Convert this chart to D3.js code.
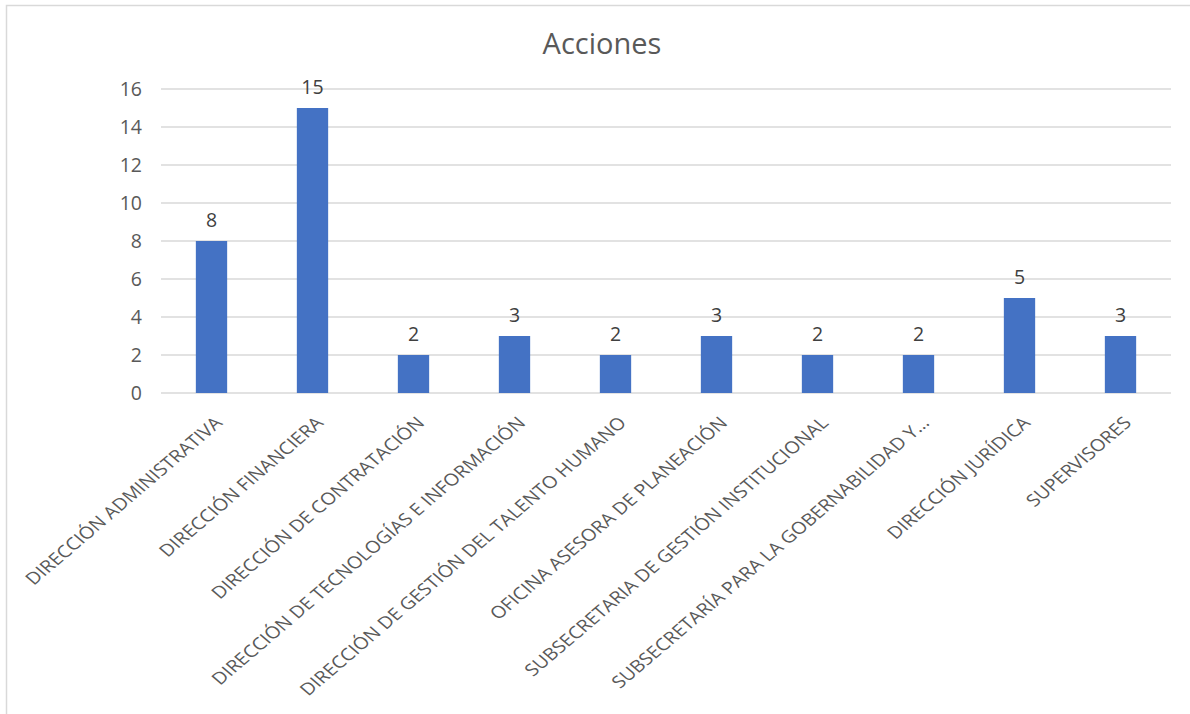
<!DOCTYPE html>
<html>
<head>
<meta charset="utf-8">
<script src="https://cdn.jsdelivr.net/npm/d3@7"></script>
<style>
  body { margin: 0; background: #fff; }
  text { font-family: 'Open Sans', 'Segoe UI', sans-serif; }
</style>
</head>
<body>
<div id="chart"></div>
<script>
var chart_width = 1190
var chart_height = 714

var categories = [
  'DIRECCIÓN ADMINISTRATIVA',
  'DIRECCIÓN FINANCIERA',
  'DIRECCIÓN DE CONTRATACIÓN',
  'DIRECCIÓN DE TECNOLOGÍAS E INFORMACIÓN',
  'DIRECCIÓN DE GESTIÓN DEL TALENTO HUMANO',
  'OFICINA ASESORA DE PLANEACIÓN',
  'SUBSECRETARIA DE GESTIÓN INSTITUCIONAL',
  'SUBSECRETARÍA PARA LA GOBERNABILIDAD Y…',
  'DIRECCIÓN JURÍDICA',
  'SUPERVISORES'
]
var values = [8, 15, 2, 3, 2, 3, 2, 2, 5, 3]
var y_ticks = [0, 2, 4, 6, 8, 10, 12, 14, 16]

var plot = { left: 161, right: 1171, top: 89, bottom: 393 }

var svg = d3.select('#chart')
  .append('svg')
  .attr('width', chart_width)
  .attr('height', chart_height)

// chart frame
svg.append('rect')
  .attr('x', 6.5)
  .attr('y', 5.5)
  .attr('width', chart_width)
  .attr('height', chart_height)
  .attr('fill', '#fff')
  .attr('stroke', '#d9d9d9')
  .attr('stroke-width', 1.5)

var x_scale = d3.scaleBand()
  .domain(categories)
  .range([plot.left, plot.right])
  .paddingInner(0.69)
  .paddingOuter(0.345)

var y_scale = d3.scaleLinear()
  .domain([0, 16])
  .range([plot.bottom, plot.top])

// gridlines
svg.append('g')
  .selectAll('line')
  .data(y_ticks)
  .enter()
  .append('line')
  .attr('x1', plot.left)
  .attr('x2', plot.right)
  .attr('y1', d => y_scale(d))
  .attr('y2', d => y_scale(d))
  .attr('stroke', '#d9d9d9')
  .attr('stroke-width', 1.4)

// y axis labels
var y_axis = d3.axisLeft(y_scale)
  .tickValues(y_ticks)
  .tickSize(0)
  .tickPadding(19)
svg.append('g')
  .attr('transform', 'translate(' + plot.left + ', 0)')
  .call(y_axis)
  .call(g => g.select('.domain').remove())
  .selectAll('text')
  .attr('font-family', "'Open Sans', 'Segoe UI', sans-serif")
  .attr('font-size', 19.5)
  .attr('fill', '#595959')

// bars
svg.append('g')
  .selectAll('rect')
  .data(values)
  .enter()
  .append('rect')
  .attr('x', (d, i) => x_scale(categories[i]))
  .attr('y', d => y_scale(d))
  .attr('width', x_scale.bandwidth())
  .attr('height', d => y_scale(0) - y_scale(d))
  .attr('fill', '#4472c4')

// value labels
svg.append('g')
  .selectAll('text')
  .data(values)
  .enter()
  .append('text')
  .attr('x', (d, i) => x_scale(categories[i]) + x_scale.bandwidth() / 2)
  .attr('y', d => y_scale(d) - 14)
  .attr('text-anchor', 'middle')
  .attr('font-size', 19.5)
  .attr('fill', '#404040')
  .text(d => d)

// category labels (the source picture is a bit stretched sideways)
svg.append('g')
  .selectAll('text')
  .data(categories)
  .enter()
  .append('text')
  .attr('transform', d =>
    'translate(' + (x_scale(d) + x_scale.bandwidth() / 2 + 12) + ', 424) scale(1.17, 1) rotate(-45)')
  .attr('text-anchor', 'end')
  .attr('font-size', 17)
  .attr('fill', '#595959')
  .text(d => d)

// title
svg.append('text')
  .attr('x', 602)
  .attr('y', 54)
  .attr('text-anchor', 'middle')
  .attr('font-size', 29)
  .attr('fill', '#595959')
  .text('Acciones')
</script>
</body>
</html>
